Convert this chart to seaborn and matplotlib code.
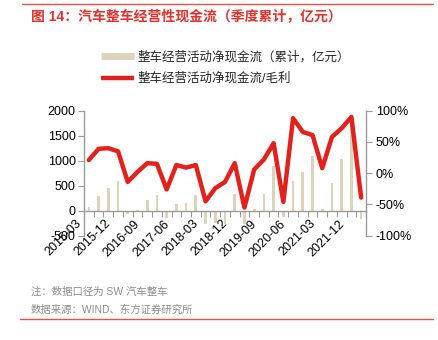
import numpy as np
import pandas as pd
import matplotlib
matplotlib.use("Agg")
import matplotlib.pyplot as plt
import seaborn as sns
from matplotlib.lines import Line2D
from matplotlib.ticker import FuncFormatter

# ---------------- data ----------------
quarters = ["2015-03", "2015-06", "2015-09", "2015-12", "2016-03", "2016-06",
            "2016-09", "2016-12", "2017-03", "2017-06", "2017-09", "2017-12",
            "2018-03", "2018-06", "2018-09", "2018-12", "2019-03", "2019-06",
            "2019-09", "2019-12", "2020-03", "2020-06", "2020-09", "2020-12",
            "2021-03", "2021-06", "2021-09", "2021-12", "2022-03"]
cash_flow = [80, 300, 460, 600, -60, 10, 220, 310, -150, 130, 150, 320,
             -260, -250, -260, 330, -260, 40, 330, 900, -130, 600, 780, 1100,
             30, 560, 1030, 1850, -170]
ratio_pct = [21, 39, 40, 35, -14, 2, 16, 15, -26, 13, 9, 13,
             -45, -24, -14, 16, -55, 6, 22, 48, -46, 88, 66, 61,
             8, 58, 72, 90, -39]
label_every = 3

title = "图 14：汽车整车经营性现金流（季度累计，亿元）"
bar_label = "整车经营活动净现金流（累计，亿元）"
line_label = "整车经营活动净现金流/毛利"
note1 = "注：数据口径为 SW 汽车整车"
note2 = "数据来源：WIND、东方证券研究所"

# ---------------- style ----------------
beige = "#DDD3BA"
red = "#E2211C"
title_red = "#E3322E"
gray = "#9A9A9A"
text_gray = "#8C8C8C"

sns.set_theme(style="white")
plt.rcParams["font.family"] = ["Liberation Sans", "Noto Sans CJK SC", "DejaVu Sans"]
plt.rcParams["axes.unicode_minus"] = False

W, H = 439, 340
fig = plt.figure(figsize=(W / 100, H / 100), dpi=100)
fig.patch.set_facecolor("white")

ax = fig.add_axes([84 / W, 1 - 235.7 / H, (366 - 84) / W, 125 / H])

n = len(quarters)
df = pd.DataFrame({"pos": np.arange(n), "quarter": quarters,
                   "cash": cash_flow, "ratio": np.array(ratio_pct) / 100.0})

sns.barplot(data=df, x="pos", y="cash", native_scale=True, color=beige,
            saturation=1, width=0.28, ax=ax, errorbar=None, linewidth=0)
ax2 = ax.twinx()
sns.lineplot(data=df, x="pos", y="ratio", color=red, linewidth=3.2, ax=ax2,
             legend=False)

ax.set_xlim(-0.5, n - 0.5)
ax.set_ylim(-500, 2000)
ax.set_yticks([-500, 0, 500, 1000, 1500, 2000])
ax2.set_ylim(-1, 1)
ax2.set_yticks([-1, -0.5, 0, 0.5, 1])
ax2.yaxis.set_major_formatter(FuncFormatter(lambda v, p: f"{v*100:.0f}%"))

ax.set_xlabel("")
ax.set_ylabel("")
ax2.set_ylabel("")
ax2.set_xlabel("")

ax.spines["bottom"].set_position(("data", 0))
for s in ["top", "right"]:
    ax.spines[s].set_visible(False)
for s in ["top", "bottom", "left"]:
    ax2.spines[s].set_visible(False)
for sp in [ax.spines["left"], ax.spines["bottom"], ax2.spines["right"]]:
    sp.set_color(gray)
    sp.set_linewidth(1.0)

ax.tick_params(axis="x", bottom=True, length=4, width=0.8, color=gray, pad=1,
               labelsize=9, labelcolor="black")
ax.tick_params(axis="y", left=True, length=4, width=0.8, color=gray, pad=2,
               labelsize=9, labelcolor="black")
ax2.tick_params(axis="y", right=True, length=4, width=0.8, color=gray, pad=3,
                labelsize=9, labelcolor="black")

ticks = np.arange(-0.5, n, 1.0)
labels = [quarters[k] if (k % label_every == 0 and k < n) else "" for k in range(len(ticks))]
ax.set_xticks(ticks)
ax.set_xticklabels(labels)
for t in ax.get_xticklabels():
    t.set_rotation(45)
    t.set_ha("right")
    t.set_fontsize(9)

ax.set_facecolor("none")
ax2.set_facecolor("none")

# legend
handles = [Line2D([], [], color=beige, linewidth=5, solid_capstyle="butt"),
           Line2D([], [], color=red, linewidth=3.2, solid_capstyle="butt")]
fig.legend(handles, [bar_label, line_label], loc="upper left",
           bbox_to_anchor=(101 / W, 1 - 51 / H), frameon=False, fontsize=9,
           handlelength=2.6, handletextpad=0.3, labelspacing=0.75,
           borderaxespad=0, borderpad=0)

# title and rules
fig.add_artist(Line2D([22 / W, 433 / W], [1 - 4 / H] * 2, color="#E8504C", linewidth=1))
fig.text(31 / W, 1 - 16 / H, title, fontsize=10, fontweight="bold",
         color=title_red, va="center", ha="left")

fig.text(31 / W, 1 - 291.5 / H, note1, fontsize=7.5, color=text_gray, va="center")
fig.text(31 / W, 1 - 310 / H, note2, fontsize=7.5, color=text_gray, va="center")
fig.add_artist(Line2D([20 / W, 433 / W], [1 - 318.5 / H] * 2, color="#E8504C", linewidth=1))

fig.savefig("out.png", dpi=100)
